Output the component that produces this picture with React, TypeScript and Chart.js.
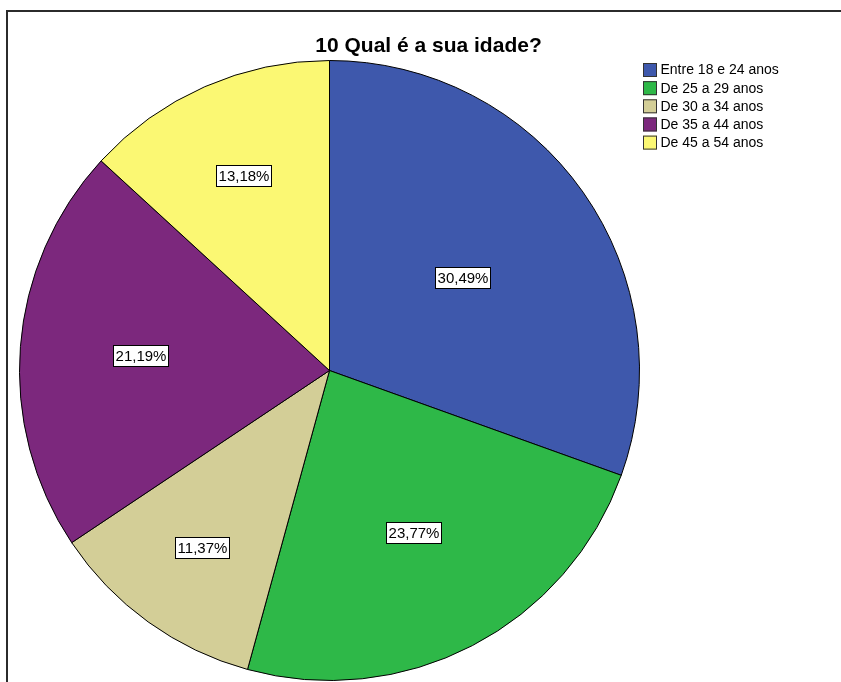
import React, { useEffect, useRef } from "react";
import { Chart, registerables } from "chart.js";

Chart.register(...registerables);

const title = "10 Qual é a sua idade?";
const categories = [
  "Entre 18 e 24 anos",
  "De 25 a 29 anos",
  "De 30 a 34 anos",
  "De 35 a 44 anos",
  "De 45 a 54 anos",
];
const percents = [30.49, 23.77, 11.37, 21.19, 13.18];
const colors = ["#3E58AC", "#2EB848", "#D3CE97", "#7C287D", "#FBF873"];

const FONT = '"Liberation Sans", Arial, sans-serif';

const decorPlugin = {
  id: "decor",
  beforeDraw(chart: any) {
    const ctx = chart.ctx;
    ctx.save();
    ctx.fillStyle = "#ffffff";
    ctx.fillRect(0, 0, chart.width, chart.height);
    ctx.fillStyle = "#2b2b2b";
    ctx.fillRect(6, 10, chart.width - 6, 2);
    ctx.fillRect(6, 10, 2, chart.height - 10);
    ctx.restore();
  },
  afterDraw(chart: any) {
    const ctx = chart.ctx;
    ctx.save();
    // title
    ctx.fillStyle = "#000";
    ctx.font = `bold 21px ${FONT}`;
    ctx.textAlign = "center";
    ctx.textBaseline = "alphabetic";
    ctx.fillText(title, 428.5, 52);

    // legend
    const labels: string[] = chart.data.labels;
    const bg: string[] = chart.data.datasets[0].backgroundColor;
    ctx.font = `14px ${FONT}`;
    ctx.textAlign = "left";
    ctx.textBaseline = "middle";
    labels.forEach((lab, i) => {
      const y = 63 + i * 18.15;
      ctx.fillStyle = bg[i];
      ctx.fillRect(643, y, 14, 14);
      ctx.strokeStyle = "#333";
      ctx.lineWidth = 1;
      ctx.strokeRect(643.5, y + 0.5, 13, 13);
      ctx.fillStyle = "#000";
      ctx.fillText(lab, 660.5, y + 7.5);
    });

    // percentage labels
    const meta = chart.getDatasetMeta(0);
    const data: number[] = chart.data.datasets[0].data;
    ctx.font = `15px ${FONT}`;
    ctx.textAlign = "center";
    ctx.textBaseline = "middle";
    meta.data.forEach((arc: any, i: number) => {
      const p = arc.getProps(["x", "y", "startAngle", "endAngle", "outerRadius"], true);
      const mid = (p.startAngle + p.endAngle) / 2;
      const ratio = 0.813 - 0.0095 * data[i];
      const cx = p.x + Math.cos(mid) * p.outerRadius * ratio;
      const cy = p.y + Math.sin(mid) * p.outerRadius * ratio;
      const txt = data[i].toFixed(2).replace(".", ",") + "%";
      const w = Math.round(ctx.measureText(txt).width) + 4;
      const h = 21;
      const bx = Math.round(cx - w / 2) + 0.5;
      const by = Math.round(cy - h / 2) + 0.5;
      ctx.fillStyle = "#fff";
      ctx.fillRect(bx, by, w, h);
      ctx.strokeStyle = "#000";
      ctx.lineWidth = 1;
      ctx.strokeRect(bx, by, w, h);
      ctx.fillStyle = "#000";
      ctx.fillText(txt, bx + w / 2, by + h / 2 + 1);
    });
    ctx.restore();
  },
};

export default function App() {
  const ref = useRef<HTMLCanvasElement | null>(null);
  useEffect(() => {
    if (!ref.current) return;
    const chart = new Chart(ref.current, {
      type: "pie",
      data: {
        labels: categories,
        datasets: [
          {
            data: percents,
            backgroundColor: colors,
            borderColor: "#000",
            borderWidth: 1,
          },
        ],
      },
      options: {
        responsive: false,
        animation: false,
        events: [],
        layout: { padding: { left: 19, top: 60, right: 201, bottom: 1 } },
        plugins: {
          legend: { display: false },
          title: { display: false },
          tooltip: { enabled: false },
        },
      },
      plugins: [decorPlugin],
    });
    return () => chart.destroy();
  }, []);
  return (
    <div style={{ position: "fixed", left: 0, top: 0, width: 841, height: 682, background: "#fff" }}>
      <canvas ref={ref} width={841} height={682} style={{ display: "block" }} />
    </div>
  );
}
